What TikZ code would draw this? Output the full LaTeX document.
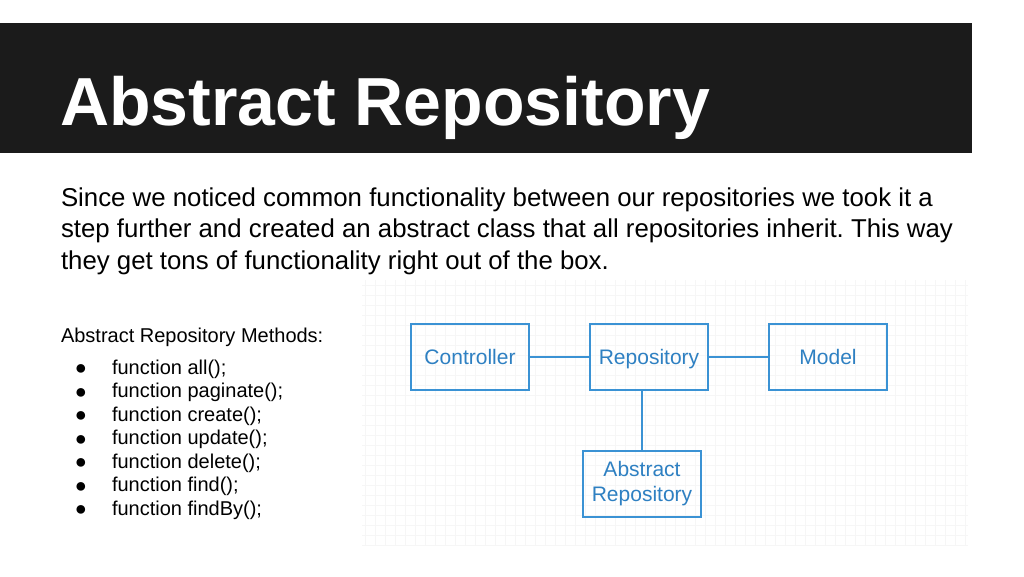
\documentclass[tikz,border=0pt]{standalone}
\usepackage{fontspec}
\setmainfont{Liberation Sans}
\usetikzlibrary{positioning}
\definecolor{slidebar}{HTML}{1B1B1B}
\definecolor{boxblue}{HTML}{3A92D4}
\definecolor{boxtext}{HTML}{2E80C2}
\frenchspacing
\begin{document}
\begin{tikzpicture}[x=1pt, y=-1pt, every node/.style={inner sep=0pt, outer sep=0pt},
	umlbox/.style={draw=boxblue, line width=1.5pt, minimum width=118pt, minimum height=66pt, text=boxtext, align=center, font=\fontsize{21}{25}\selectfont},
	oneline/.style={text height=16.75pt, text depth=2.75pt},
	link/.style={draw=boxblue, line width=1.5pt},
	gridline/.style={draw=gray!7, line width=0.4pt}]
	\useasboundingbox (0,0) rectangle (1024,576);
	\fill[white] (0,0) rectangle (1024,576);

	% title bar
	\fill[slidebar] (0,23) rectangle (972,153);
	\node[anchor=base west, text=white, font=\fontsize{68}{70}\selectfont\bfseries] (title) at (60,125) {Abstract Repository};

	% intro text
	\foreach \txt [count=\i] in {Since we noticed common functionality between our repositories we took it a,
		step further and created an abstract class that all repositories inherit. This way,
		they get tons of functionality right out of the box.}{
		\node[anchor=base west, font=\fontsize{25.8}{31}\selectfont] (intro\i) at (61,206+31.5*\i-31.5) {\txt};
	}

	% method list
	\node[anchor=base west, font=\fontsize{20}{23}\selectfont] (methods) at (61,342) {Abstract Repository Methods:};
	\foreach \fn [count=\i] in {all, paginate, create, update, delete, find, findBy}{
		\node[anchor=base, font=\fontsize{20}{24}\selectfont] (dot\i) at (81,351+23.5*\i) {●};
		\node[anchor=base west, font=\fontsize{20}{23}\selectfont] (fn\i) at (112,350.5+23.5*\i) {function \fn();};
	}

	% diagram background
	\foreach \gx in {365,375,...,965} \draw[gridline] (\gx,280) -- (\gx,545);
	\foreach \gy in {285,295,...,545} \draw[gridline] (362,\gy) -- (968,\gy);

	% diagram
	\node[umlbox, oneline] (ctrl) at (470,357) {Controller};
	\node[umlbox, oneline, right=61pt of ctrl] (repo) {Repository};
	\node[umlbox, oneline, right=61pt of repo] (model) {Model};
	\node[umlbox, below=61pt of repo, xshift=-7pt] (abrepo) {Abstract\\Repository};

	\draw[link] (ctrl) -- (repo);
	\draw[link] (repo) -- (model);
	\draw[link] (abrepo.north) -- (abrepo.north |- repo.south);
\end{tikzpicture}
\end{document}
